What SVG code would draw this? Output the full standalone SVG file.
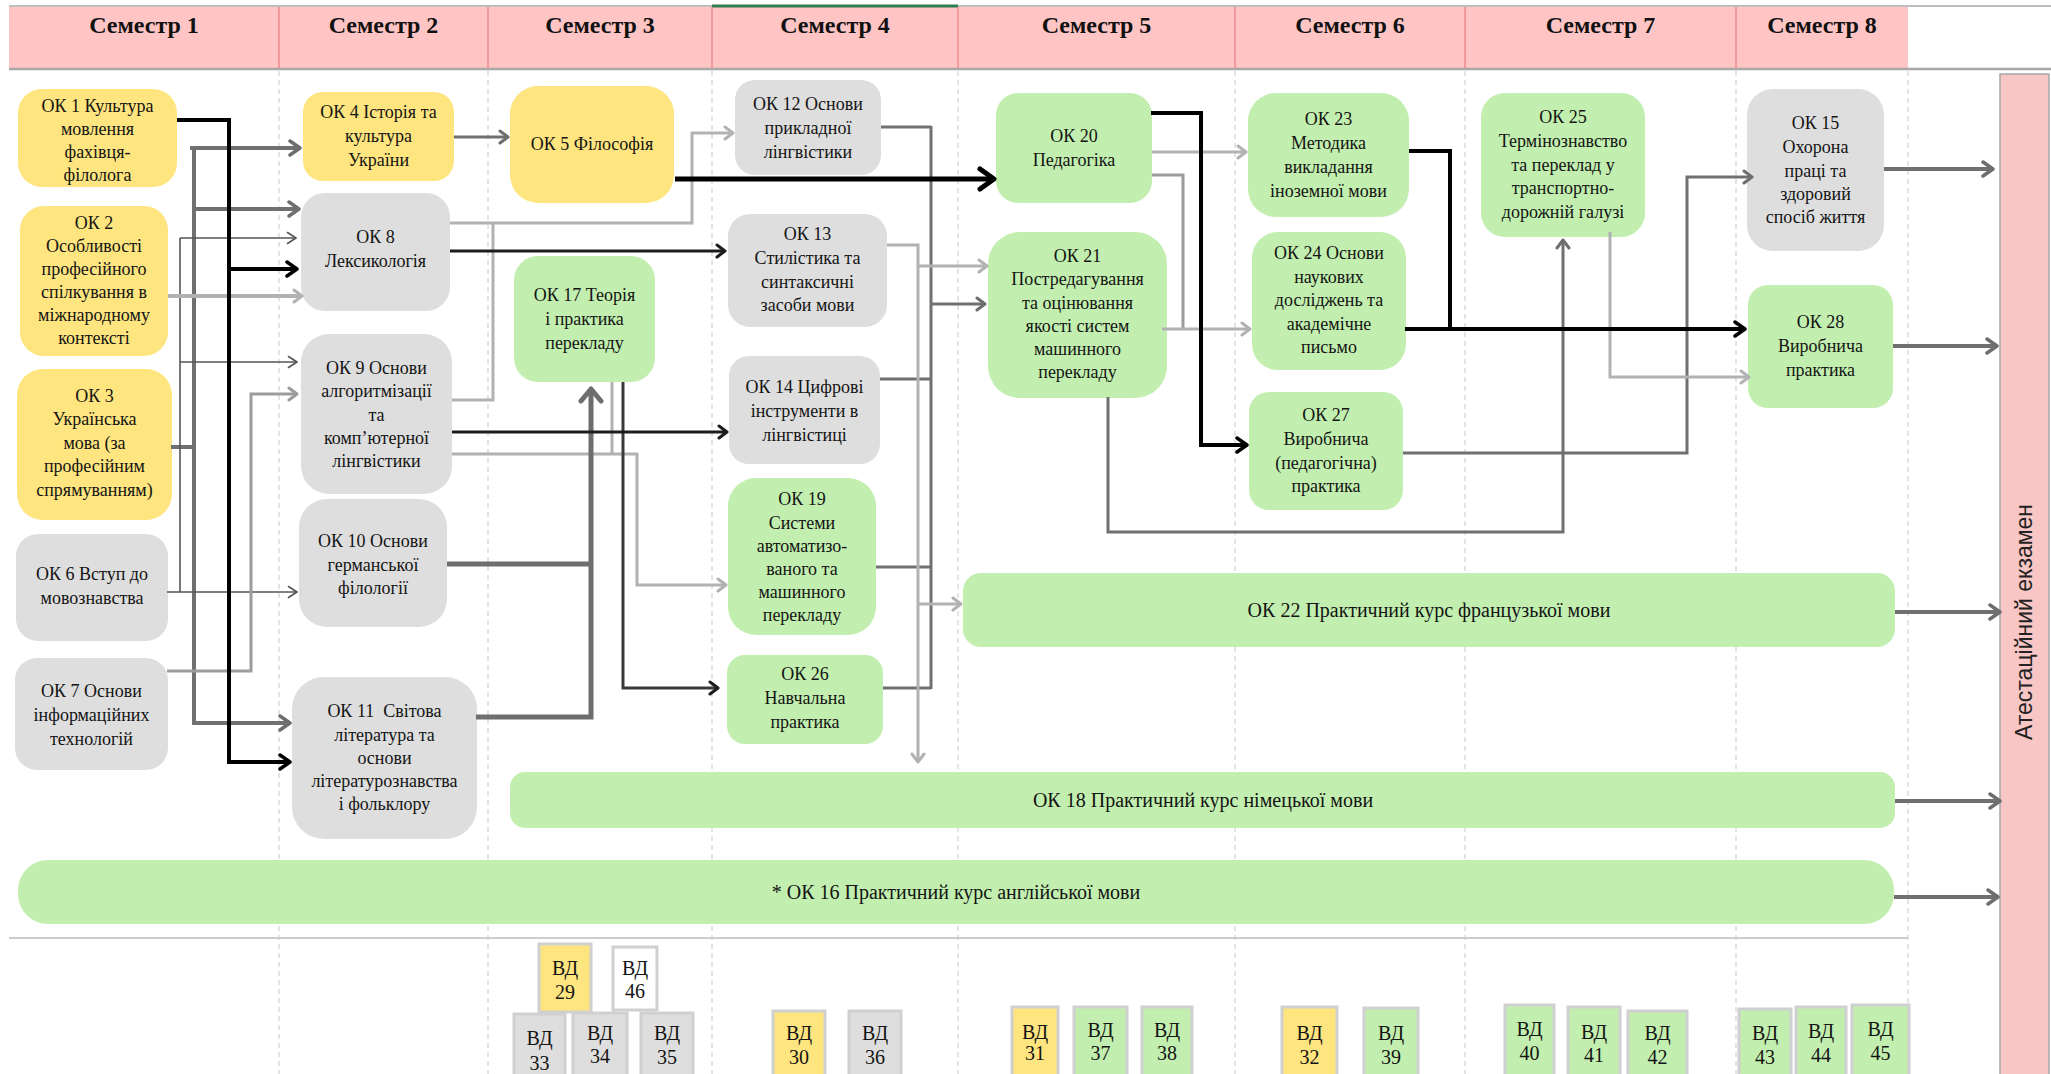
<svg xmlns="http://www.w3.org/2000/svg" width="2051" height="1074" viewBox="0 0 2051 1074">
<defs>
<style>
.nt{font-family:"Liberation Serif","Times New Roman",serif;font-size:18px;fill:#141414;text-anchor:middle}
.bt{font-family:"Liberation Serif","Times New Roman",serif;font-size:20px;fill:#141414;text-anchor:middle}
.hd{font-family:"Liberation Serif","Times New Roman",serif;font-size:24px;font-weight:bold;fill:#111;text-anchor:middle}
.vt{font-family:"Liberation Serif","Times New Roman",serif;font-size:20px;fill:#141414;text-anchor:middle}
.ex{font-family:"Liberation Sans",Arial,sans-serif;font-size:23px;fill:#222;text-anchor:middle}
.y{fill:#FFE57F}.g{fill:#DEDEDE}.gr{fill:#C2EFAF}.w{fill:#FFFFFF}
.vb{stroke:#D0D0D0;stroke-width:3}
.grid{stroke:#C8C8C8;stroke-width:1;stroke-dasharray:5 4;fill:none}
.hdl{stroke:#EE8A8A;stroke-width:1.5}
.c{fill:none}
.k5{stroke:#000;stroke-width:5}
.k4{stroke:#000;stroke-width:4}
.k3{stroke:#1c1c1c;stroke-width:3}
.d5{stroke:#6E6E6E;stroke-width:5}
.d4{stroke:#707070;stroke-width:4}
.d3{stroke:#707070;stroke-width:3}
.l3{stroke:#B2B2B2;stroke-width:3}
.l4{stroke:#B2B2B2;stroke-width:4}
.m3{stroke:#9C9C9C;stroke-width:3}
.t{stroke:#555;stroke-width:1.6}
.mk{fill:none;stroke-linejoin:round;stroke-linecap:round}
</style>
<marker id="ak" viewBox="0 0 14 18" refX="12" refY="9" markerWidth="14" markerHeight="18" markerUnits="userSpaceOnUse" orient="auto"><path class="mk" d="M2,2 L12,9 L2,16" stroke="#000" stroke-width="3.5"/></marker>
<marker id="akb" viewBox="0 0 20 26" refX="17" refY="13" markerWidth="20" markerHeight="26" markerUnits="userSpaceOnUse" orient="auto"><path class="mk" d="M3,3 L17,13 L3,23" stroke="#000" stroke-width="5"/></marker>
<marker id="ak3" viewBox="0 0 12 16" refX="10" refY="8" markerWidth="12" markerHeight="16" markerUnits="userSpaceOnUse" orient="auto"><path class="mk" d="M2,2 L10,8 L2,14" stroke="#1c1c1c" stroke-width="3"/></marker>
<marker id="ad" viewBox="0 0 14 18" refX="12" refY="9" markerWidth="14" markerHeight="18" markerUnits="userSpaceOnUse" orient="auto"><path class="mk" d="M2,2 L12,9 L2,16" stroke="#6E6E6E" stroke-width="3.5"/></marker>
<marker id="ad3" viewBox="0 0 12 16" refX="10" refY="8" markerWidth="12" markerHeight="16" markerUnits="userSpaceOnUse" orient="auto"><path class="mk" d="M2,2 L10,8 L2,14" stroke="#6E6E6E" stroke-width="3"/></marker>
<marker id="adb" viewBox="0 0 18 26" refX="15" refY="13" markerWidth="18" markerHeight="26" markerUnits="userSpaceOnUse" orient="auto"><path class="mk" d="M3,3 L15,13 L3,23" stroke="#6E6E6E" stroke-width="5"/></marker>
<marker id="al" viewBox="0 0 12 16" refX="10" refY="8" markerWidth="12" markerHeight="16" markerUnits="userSpaceOnUse" orient="auto"><path class="mk" d="M2,2 L10,8 L2,14" stroke="#B2B2B2" stroke-width="3"/></marker>
<marker id="am" viewBox="0 0 12 16" refX="10" refY="8" markerWidth="12" markerHeight="16" markerUnits="userSpaceOnUse" orient="auto"><path class="mk" d="M2,2 L10,8 L2,14" stroke="#9C9C9C" stroke-width="3"/></marker>
<marker id="at" viewBox="0 0 11 14" refX="10" refY="7" markerWidth="11" markerHeight="14" markerUnits="userSpaceOnUse" orient="auto"><path class="mk" d="M1.5,1.5 L10,7 L1.5,12.5" stroke="#555" stroke-width="1.6"/></marker>
</defs>

<rect x="0" y="0" width="2051" height="1074" fill="#FFFFFF"/>

<g id="header">
<rect x="9" y="7" width="1899" height="62" fill="#FFC5C5"/>
<line x1="9" y1="6" x2="2051" y2="6" stroke="#BEBEBE" stroke-width="2"/>
<line x1="712" y1="6" x2="958" y2="6" stroke="#2E7D4F" stroke-width="3"/>
<line x1="9" y1="69" x2="2051" y2="69" stroke="#A8A8A8" stroke-width="2.5"/>
<line class="hdl" x1="279" y1="7" x2="279" y2="68"/>
<line class="hdl" x1="488" y1="7" x2="488" y2="68"/>
<line class="hdl" x1="712" y1="7" x2="712" y2="68"/>
<line class="hdl" x1="958" y1="7" x2="958" y2="68"/>
<line class="hdl" x1="1235" y1="7" x2="1235" y2="68"/>
<line class="hdl" x1="1465" y1="7" x2="1465" y2="68"/>
<line class="hdl" x1="1736" y1="7" x2="1736" y2="68"/>
<text class="hd" x="144" y="33">Семестр 1</text>
<text class="hd" x="383.5" y="33">Семестр 2</text>
<text class="hd" x="600" y="33">Семестр 3</text>
<text class="hd" x="835" y="33">Семестр 4</text>
<text class="hd" x="1096.5" y="33">Семестр 5</text>
<text class="hd" x="1350" y="33">Семестр 6</text>
<text class="hd" x="1600.5" y="33">Семестр 7</text>
<text class="hd" x="1822" y="33">Семестр 8</text>
</g>

<g id="grid">
<path class="grid" d="M279,71 V1074 M488,71 V1074 M712,71 V1074 M958,71 V1074 M1235,71 V1074 M1465,71 V1074 M1736,71 V1074 M1908,71 V1074"/>
<line x1="9" y1="938" x2="1908" y2="938" stroke="#CDCDCD" stroke-width="2"/>
</g>

<g id="ok1"><rect class="y" x="18" y="89" width="159" height="98" rx="24"/><text class="nt"><tspan x="97.5" y="112">ОК 1 Культура</tspan><tspan x="97.5" y="135">мовлення</tspan><tspan x="97.5" y="158">фахівця-</tspan><tspan x="97.5" y="181">філолога</tspan></text></g>
<g id="ok2"><rect class="y" x="20" y="206" width="148" height="150" rx="24"/><text class="nt"><tspan x="94" y="229">ОК 2</tspan><tspan x="94" y="252">Особливості</tspan><tspan x="94" y="275">професійного</tspan><tspan x="94" y="298">спілкування в</tspan><tspan x="94" y="321">міжнародному</tspan><tspan x="94" y="344">контексті</tspan></text></g>
<g id="ok3"><rect class="y" x="17" y="369" width="155" height="151" rx="26"/><text class="nt"><tspan x="94.5" y="402">ОК 3</tspan><tspan x="94.5" y="425">Українська</tspan><tspan x="94.5" y="449">мова (за</tspan><tspan x="94.5" y="472">професійним</tspan><tspan x="94.5" y="496">спрямуванням)</tspan></text></g>
<g id="ok6"><rect class="g" x="16" y="534" width="152" height="107" rx="22"/><text class="nt"><tspan x="92" y="580">ОК 6 Вступ до</tspan><tspan x="92" y="604">мовознавства</tspan></text></g>
<g id="ok7"><rect class="g" x="15" y="658" width="153" height="112" rx="22"/><text class="nt"><tspan x="91.5" y="697">ОК 7 Основи</tspan><tspan x="91.5" y="721">інформаційних</tspan><tspan x="91.5" y="745">технологій</tspan></text></g>

<g id="ok4"><rect class="y" x="303" y="92" width="151" height="89" rx="20"/><text class="nt"><tspan x="378.5" y="118">ОК 4 Історія та</tspan><tspan x="378.5" y="142">культура</tspan><tspan x="378.5" y="166">України</tspan></text></g>
<g id="ok8"><rect class="g" x="301" y="193" width="149" height="118" rx="24"/><text class="nt"><tspan x="375.5" y="243">ОК 8</tspan><tspan x="375.5" y="267">Лексикологія</tspan></text></g>
<g id="ok9"><rect class="g" x="301" y="334" width="151" height="160" rx="28"/><text class="nt"><tspan x="376.5" y="374">ОК 9 Основи</tspan><tspan x="376.5" y="397">алгоритмізації</tspan><tspan x="376.5" y="421">та</tspan><tspan x="376.5" y="444">комп’ютерної</tspan><tspan x="376.5" y="467">лінгвістики</tspan></text></g>
<g id="ok10"><rect class="g" x="299" y="499" width="148" height="128" rx="28"/><text class="nt"><tspan x="373" y="547">ОК 10 Основи</tspan><tspan x="373" y="571">германської</tspan><tspan x="373" y="594">філології</tspan></text></g>
<g id="ok11"><rect class="g" x="292" y="677" width="185" height="162" rx="32"/><text class="nt"><tspan x="384.5" y="717">ОК 11&#160; Світова</tspan><tspan x="384.5" y="741">література та</tspan><tspan x="384.5" y="764">основи</tspan><tspan x="384.5" y="787">літературознавства</tspan><tspan x="384.5" y="810">і фольклору</tspan></text></g>

<g id="ok5"><rect class="y" x="510" y="86" width="164" height="117" rx="28"/><text class="nt"><tspan x="592" y="150">ОК 5 Філософія</tspan></text></g>
<g id="ok17"><rect class="gr" x="514" y="256" width="141" height="126" rx="24"/><text class="nt"><tspan x="584.5" y="301">ОК 17 Теорія</tspan><tspan x="584.5" y="325">і практика</tspan><tspan x="584.5" y="349">перекладу</tspan></text></g>

<g id="ok12"><rect class="g" x="735" y="80" width="146" height="95" rx="20"/><text class="nt"><tspan x="808" y="110">ОК 12 Основи</tspan><tspan x="808" y="134">прикладної</tspan><tspan x="808" y="158">лінгвістики</tspan></text></g>
<g id="ok13"><rect class="g" x="728" y="214" width="159" height="113" rx="22"/><text class="nt"><tspan x="807.5" y="240">ОК 13</tspan><tspan x="807.5" y="264">Стилістика та</tspan><tspan x="807.5" y="288">синтаксичні</tspan><tspan x="807.5" y="311">засоби мови</tspan></text></g>
<g id="ok14"><rect class="g" x="729" y="356" width="151" height="108" rx="20"/><text class="nt"><tspan x="804.5" y="393">ОК 14 Цифрові</tspan><tspan x="804.5" y="417">інструменти в</tspan><tspan x="804.5" y="441">лінгвістиці</tspan></text></g>
<g id="ok19"><rect class="gr" x="728" y="478" width="148" height="157" rx="28"/><text class="nt"><tspan x="802" y="505">ОК 19</tspan><tspan x="802" y="529">Системи</tspan><tspan x="802" y="552">автоматизо-</tspan><tspan x="802" y="575">ваного та</tspan><tspan x="802" y="598">машинного</tspan><tspan x="802" y="621">перекладу</tspan></text></g>
<g id="ok26"><rect class="gr" x="727" y="655" width="156" height="89" rx="18"/><text class="nt"><tspan x="805" y="680">ОК 26</tspan><tspan x="805" y="704">Навчальна</tspan><tspan x="805" y="728">практика</tspan></text></g>

<g id="ok20"><rect class="gr" x="996" y="93" width="156" height="110" rx="22"/><text class="nt"><tspan x="1074" y="142">ОК 20</tspan><tspan x="1074" y="166">Педагогіка</tspan></text></g>
<g id="ok21"><rect class="gr" x="988" y="232" width="179" height="166" rx="32"/><text class="nt"><tspan x="1077.5" y="262">ОК 21</tspan><tspan x="1077.5" y="285">Постредагування</tspan><tspan x="1077.5" y="309">та оцінювання</tspan><tspan x="1077.5" y="332">якості систем</tspan><tspan x="1077.5" y="355">машинного</tspan><tspan x="1077.5" y="378">перекладу</tspan></text></g>
<g id="ok22"><rect class="gr" x="963" y="573" width="932" height="74" rx="18"/><text class="bt" x="1429" y="617">ОК 22 Практичний курс французької мови</text></g>

<g id="ok23"><rect class="gr" x="1248" y="93" width="161" height="124" rx="28"/><text class="nt"><tspan x="1328.5" y="125">ОК 23</tspan><tspan x="1328.5" y="149">Методика</tspan><tspan x="1328.5" y="173">викладання</tspan><tspan x="1328.5" y="197">іноземної мови</tspan></text></g>
<g id="ok24"><rect class="gr" x="1252" y="232" width="154" height="138" rx="26"/><text class="nt"><tspan x="1329" y="259">ОК 24 Основи</tspan><tspan x="1329" y="283">наукових</tspan><tspan x="1329" y="306">досліджень та</tspan><tspan x="1329" y="330">академічне</tspan><tspan x="1329" y="353">письмо</tspan></text></g>
<g id="ok27"><rect class="gr" x="1249" y="392" width="154" height="118" rx="20"/><text class="nt"><tspan x="1326" y="421">ОК 27</tspan><tspan x="1326" y="445">Виробнича</tspan><tspan x="1326" y="469">(педагогічна)</tspan><tspan x="1326" y="492">практика</tspan></text></g>

<g id="ok25"><rect class="gr" x="1481" y="93" width="164" height="144" rx="24"/><text class="nt"><tspan x="1563" y="123">ОК 25</tspan><tspan x="1563" y="147">Термінознавство</tspan><tspan x="1563" y="171">та переклад у</tspan><tspan x="1563" y="194">транспортно-</tspan><tspan x="1563" y="218">дорожній галузі</tspan></text></g>

<g id="ok15"><rect class="g" x="1747" y="89" width="137" height="162" rx="26"/><text class="nt"><tspan x="1815.5" y="129">ОК 15</tspan><tspan x="1815.5" y="153">Охорона</tspan><tspan x="1815.5" y="177">праці та</tspan><tspan x="1815.5" y="200">здоровий</tspan><tspan x="1815.5" y="223">спосіб життя</tspan></text></g>
<g id="ok28"><rect class="gr" x="1748" y="285" width="145" height="123" rx="20"/><text class="nt"><tspan x="1820.5" y="328">ОК 28</tspan><tspan x="1820.5" y="352">Виробнича</tspan><tspan x="1820.5" y="376">практика</tspan></text></g>

<g id="ok18"><rect class="gr" x="510" y="772" width="1385" height="56" rx="15"/><text class="bt" x="1203" y="807">ОК 18 Практичний курс німецької мови</text></g>
<g id="ok16"><rect class="gr" x="18" y="860" width="1876" height="64" rx="30"/><text class="bt" x="956" y="899">* ОК 16 Практичний курс англійської мови</text></g>

<g id="exam"><rect x="2000" y="74" width="49" height="1010" fill="#F8C6C4" stroke="#A8A8A8" stroke-width="1.5"/><text class="ex" transform="translate(2032,622) rotate(-90)">Атестаційний екзамен</text></g>

<g id="vd29"><rect class="y vb" x="539" y="944" width="52" height="68"/><text class="vt"><tspan x="565" y="975">ВД</tspan><tspan x="565" y="999">29</tspan></text></g>
<g id="vd46"><rect class="w vb" x="613" y="947" width="44" height="63"/><text class="vt"><tspan x="635" y="975">ВД</tspan><tspan x="635" y="998">46</tspan></text></g>
<g id="vd33"><rect class="g vb" x="514" y="1014" width="51" height="70"/><text class="vt"><tspan x="539.5" y="1045">ВД</tspan><tspan x="539.5" y="1070">33</tspan></text></g>
<g id="vd34"><rect class="g vb" x="573" y="1013" width="54" height="70"/><text class="vt"><tspan x="600" y="1040">ВД</tspan><tspan x="600" y="1063">34</tspan></text></g>
<g id="vd35"><rect class="g vb" x="641" y="1013" width="52" height="70"/><text class="vt"><tspan x="667" y="1040">ВД</tspan><tspan x="667" y="1064">35</tspan></text></g>
<g id="vd30"><rect class="y vb" x="773" y="1011" width="52" height="70"/><text class="vt"><tspan x="799" y="1040">ВД</tspan><tspan x="799" y="1064">30</tspan></text></g>
<g id="vd36"><rect class="g vb" x="849" y="1011" width="52" height="70"/><text class="vt"><tspan x="875" y="1040">ВД</tspan><tspan x="875" y="1064">36</tspan></text></g>
<g id="vd31"><rect class="y vb" x="1012" y="1007" width="46" height="75"/><text class="vt"><tspan x="1035" y="1039">ВД</tspan><tspan x="1035" y="1060">31</tspan></text></g>
<g id="vd37"><rect class="gr vb" x="1074" y="1007" width="53" height="75"/><text class="vt"><tspan x="1100.5" y="1037">ВД</tspan><tspan x="1100.5" y="1060">37</tspan></text></g>
<g id="vd38"><rect class="gr vb" x="1142" y="1007" width="50" height="75"/><text class="vt"><tspan x="1167" y="1037">ВД</tspan><tspan x="1167" y="1060">38</tspan></text></g>
<g id="vd32"><rect class="y vb" x="1282" y="1007" width="55" height="75"/><text class="vt"><tspan x="1309.5" y="1040">ВД</tspan><tspan x="1309.5" y="1064">32</tspan></text></g>
<g id="vd39"><rect class="gr vb" x="1364" y="1008" width="54" height="75"/><text class="vt"><tspan x="1391" y="1040">ВД</tspan><tspan x="1391" y="1064">39</tspan></text></g>
<g id="vd40"><rect class="gr vb" x="1505" y="1005" width="49" height="75"/><text class="vt"><tspan x="1529.5" y="1036">ВД</tspan><tspan x="1529.5" y="1060">40</tspan></text></g>
<g id="vd41"><rect class="gr vb" x="1568" y="1007" width="52" height="75"/><text class="vt"><tspan x="1594" y="1039">ВД</tspan><tspan x="1594" y="1062">41</tspan></text></g>
<g id="vd42"><rect class="gr vb" x="1628" y="1011" width="59" height="75"/><text class="vt"><tspan x="1657.5" y="1040">ВД</tspan><tspan x="1657.5" y="1064">42</tspan></text></g>
<g id="vd43"><rect class="gr vb" x="1739" y="1009" width="52" height="75"/><text class="vt"><tspan x="1765" y="1040">ВД</tspan><tspan x="1765" y="1064">43</tspan></text></g>
<g id="vd44"><rect class="gr vb" x="1796" y="1007" width="50" height="75"/><text class="vt"><tspan x="1821" y="1038">ВД</tspan><tspan x="1821" y="1062">44</tspan></text></g>
<g id="vd45"><rect class="gr vb" x="1852" y="1005" width="57" height="75"/><text class="vt"><tspan x="1880.5" y="1036">ВД</tspan><tspan x="1880.5" y="1060">45</tspan></text></g>

<g id="connectors">
<path class="c d4" d="M171,447 H194 M194,146 V725"/>
<path class="c d4" d="M190,148 H300" marker-end="url(#ad)"/>
<path class="c d4" d="M194,209 H299" marker-end="url(#ad)"/>
<path class="c d4" d="M194,723 H290" marker-end="url(#ad)"/>
<path class="c t" d="M180,238 V592"/>
<path class="c t" d="M167,592 H297" marker-end="url(#at)"/>
<path class="c t" d="M180,238 H296" marker-end="url(#at)"/>
<path class="c t" d="M180,362 H297" marker-end="url(#at)"/>
<path class="c l4" d="M168,296 H302" marker-end="url(#al)"/>
<path class="c m3" d="M167,671 H251 V394 H297" marker-end="url(#am)"/>
<path class="c k4" d="M177,120 H229 V762 H290" marker-end="url(#ak)"/>
<path class="c k4" d="M229,269 H297" marker-end="url(#ak)"/>

<path class="c d3" d="M454,137 H508" marker-end="url(#ad3)"/>
<path class="c l3" d="M450,223 H692 V133 H733" marker-end="url(#al)"/>
<path class="c l3" d="M452,400 H493 V224"/>
<path class="c l3" d="M452,454 H637 V585 H726" marker-end="url(#al)"/>
<path class="c l3" d="M612,382 V454"/>
<path class="c" stroke="#3a3a3a" stroke-width="3" d="M623,382 V688 H718" marker-end="url(#ak3)"/>
<path class="c d5" d="M447,564 H591 M476,717 H591 V389" marker-end="url(#adb)"/>
<path class="c k3" d="M450,251 H725" marker-end="url(#ak3)"/>
<path class="c k3" d="M452,432 H727" marker-end="url(#ak3)"/>

<path class="c d3" d="M881,127 H931 M880,379 H931 M876,567 H931 M883,688 H931 M931,126 V689"/>
<path class="c d3" d="M931,304 H985" marker-end="url(#ad3)"/>
<path class="c l3" d="M887,245 H918 V762" marker-end="url(#al)"/>
<path class="c l3" d="M918,266 H987" marker-end="url(#al)"/>
<path class="c l3" d="M918,604 H961" marker-end="url(#al)"/>
<path class="c k5" d="M675,179 H994" marker-end="url(#akb)"/>

<path class="c l3" d="M1152,152 H1246" marker-end="url(#al)"/>
<path class="c m3" d="M1152,175 H1183 V329"/>
<path class="c l3" d="M1162,329 H1250" marker-end="url(#al)"/>
<path class="c d3" d="M1108,397 V532 H1563 V240" marker-end="url(#ad3)"/>
<path class="c k4" d="M1151,113 H1201 V445 H1247" marker-end="url(#ak)"/>
<path class="c d3" d="M1403,453 H1687 V177 H1752" marker-end="url(#ad3)"/>
<path class="c l3" d="M1610,232 V377 H1749" marker-end="url(#al)"/>
<path class="c k4" d="M1409,151 H1450 V329"/>
<path class="c k4" d="M1405,329 H1745" marker-end="url(#ak)"/>

<path class="c d4" d="M1884,169 H1993" marker-end="url(#ad)"/>
<path class="c d4" d="M1893,346 H1997" marker-end="url(#ad)"/>
<path class="c d4" d="M1895,612 H2000" marker-end="url(#ad)"/>
<path class="c d4" d="M1895,801 H2000" marker-end="url(#ad)"/>
<path class="c d4" d="M1894,897 H1998" marker-end="url(#ad)"/>
</g>
</svg>
